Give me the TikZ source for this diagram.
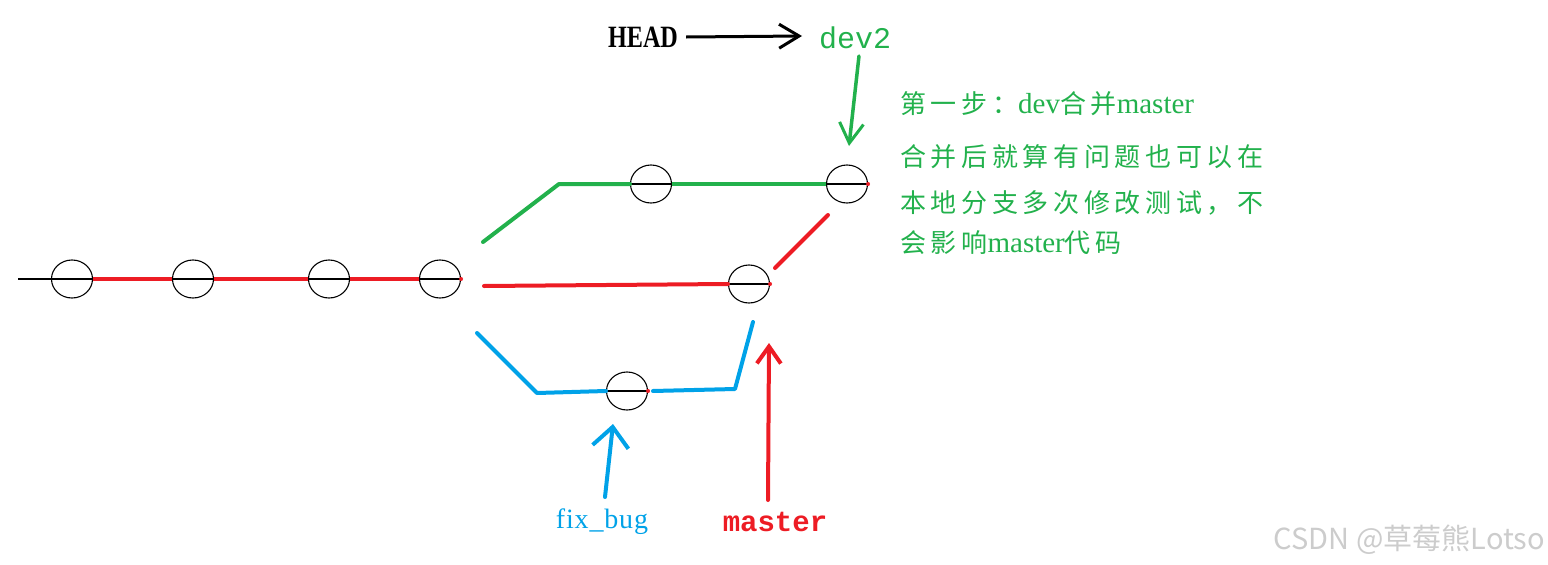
\documentclass[tikz,border=0pt]{standalone}
\usepackage{fontspec}
\usepackage{graphicx}
\setmainfont{Liberation Serif}
\newfontfamily\cjk[LetterSpace=18]{Noto Sans CJK SC}
\newfontfamily\wm{Noto Sans CJK SC}
\newfontfamily\mono{Liberation Mono}
\usetikzlibrary{shapes.geometric,arrows.meta}
\definecolor{pgreen}{HTML}{22B14C}
\definecolor{pred}{HTML}{ED1C24}
\definecolor{pblue}{HTML}{00A2E8}
\begin{document}
\begin{tikzpicture}[x=1pt,y=-1pt,
  commit/.style={ellipse,draw=black,line width=1.1pt,minimum width=41pt,minimum height=38pt,inner sep=0pt},
  thick line/.style={line width=4pt,line cap=round},
  diam/.style={black,line width=1.6pt},
  barb/.style={-{Straight Barb[length=#1,width=#1*1.2,line width=3pt]}},
  txt/.style={inner sep=0pt}]
\useasboundingbox (0,0) rectangle (1548,565);
% commits
\node[commit] (c1) at (72,279) {};
\node[commit] (c2) at (193,279) {};
\node[commit] (c3) at (329,279) {};
\node[commit] (c4) at (440,279) {};
\node[commit] (g1) at (651,184) {};
\node[commit] (g2) at (847,184) {};
\node[commit] (r1) at (749,284) {};
\node[commit] (b1) at (627,391) {};
\foreach \n in {c1,c2,c3,c4,g1,g2,r1,b1} {\draw[diam] (\n.west) -- (\n.east);}
\foreach \n in {c4,g2,r1,b1} {\fill[pred] (\n.east) circle (2pt);}
% main line
\coordinate (m0) at (18,279);
\draw[black,line width=1.6pt] (m0) -- (c1.west);
\draw[pred,line width=4pt] (c1.east) -- (c2.west) (c2.east) -- (c3.west) (c3.east) -- (c4.west);
% green branch
\coordinate (gs) at (483,242);
\coordinate (gk) at (559,184);
\draw[pgreen,thick line,line join=round] (gs) -- (gk) -- (g1.west);
\draw[pgreen,line width=4pt] (g1.east) -- (g2.west);
% red branch
\coordinate (rs) at (484,286);
\draw[pred,thick line] (rs) -- (r1.west);
\coordinate (rd1) at (775,268);
\coordinate (rd2) at (828,215);
\draw[pred,thick line] (rd1) -- (rd2);
% blue branch
\coordinate (bs) at (477,333);
\coordinate (bk) at (537,393);
\coordinate (bm) at (653,391);
\coordinate (bk2) at (735,389);
\coordinate (be) at (753,322);
\draw[pblue,thick line,line join=round] (bs) -- (bk) -- (b1.west);
\draw[pblue,thick line,line join=round] (bm) -- (bk2) -- (be);
% labels
\node[txt,font=\fontsize{31}{31}\selectfont\bfseries] (head) at (643,37) {\scalebox{0.78}[1]{HEAD}};
\node[txt,text=pgreen,font=\mono\fontsize{30}{30}\selectfont] (dev2) at (855,38) {dev2};
\node[txt,text=pblue,font=\addfontfeature{LetterSpace=3}\fontsize{28}{28}\selectfont] (fb) at (602,522) {fix\_bug};
\node[txt,text=pred,font=\mono\bfseries\fontsize{29}{29}\selectfont] (ms) at (775,522) {master};
% arrows
\draw[black,line width=3pt,barb=20pt] (head.east) ++(8,0) coordinate (ha) -- (802,36) coordinate (ht);
\coordinate (da) at (859,56);
\coordinate (dt) at (849,146);
\draw[pgreen,line width=3.5pt,line cap=round,barb=20pt] (da) -- (dt);
\coordinate (fa) at (605,497);
\coordinate (ft) at (613,424);
\draw[pblue,line width=4pt,line cap=round,-{Straight Barb[length=20pt,width=36pt,line width=4pt]}] (fa) -- (ft);
\coordinate (ma) at (768,500);
\coordinate (mt) at (769,343);
\draw[pred,line width=4pt,line cap=round,-{Straight Barb[length=17pt,width=24pt,line width=4pt]}] (ma) -- (mt);
% green text
\begin{scope}[every node/.style={txt,anchor=west,text=pgreen,font=\fontsize{29}{29}\selectfont}]
\node (t1) at (900,104) {{\cjk\fontsize{26}{26}\selectfont 第一步：}dev{\cjk\fontsize{26}{26}\selectfont 合并}master};
\node (t2) at (900,157) {\cjk\fontsize{26}{26}\selectfont 合并后就算有问题也可以在};
\node (t3) at (900,203) {\cjk\fontsize{26}{26}\selectfont 本地分支多次修改测试，不};
\node (t4) at (900,243) {{\cjk\fontsize{26}{26}\selectfont 会影响}master{\cjk\fontsize{26}{26}\selectfont 代码}};
\end{scope}
% watermark
\node[txt,anchor=east,text=black!20,font=\wm\fontsize{29}{29}\selectfont] (wmk) at (1545,540) {CSDN @草莓熊Lotso};
\end{tikzpicture}
\end{document}
